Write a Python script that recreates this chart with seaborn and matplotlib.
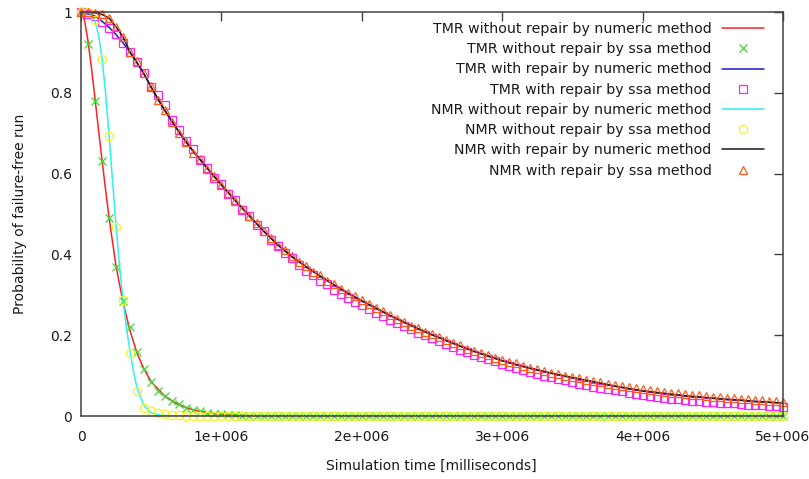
import matplotlib
matplotlib.use("Agg")
import matplotlib.pyplot as plt
import seaborn as sns
import numpy as np

# ---------------- data (time in units of 1e5 ms for numeric, 1e4 ms for ssa) ----------------
t_red = [0, 0.25, 0.5, 0.75, 1, 1.25, 1.5, 1.75, 2, 2.5, 3, 3.5, 4, 4.5, 5, 6, 7, 8, 9, 10,
         12, 15, 20, 30, 40, 50]
tmr_norep_num = [1.0, 0.98, 0.928, 0.86, 0.785, 0.707, 0.633, 0.56, 0.49, 0.37, 0.28, 0.21,
                 0.155, 0.115, 0.085, 0.048, 0.027, 0.015, 0.008, 0.004, 0.001, 0, 0, 0, 0, 0]

t_cyan = [0, 0.5, 0.75, 1, 1.25, 1.5, 1.75, 2, 2.25, 2.5, 2.75, 3, 3.25, 3.5, 3.75, 4, 4.5,
          5, 5.5, 6, 7, 10, 20, 50]
nmr_norep_num = [1.0, 0.998, 0.993, 0.978, 0.943, 0.885, 0.80, 0.695, 0.58, 0.47, 0.37, 0.285,
                 0.215, 0.158, 0.108, 0.068, 0.025, 0.008, 0.003, 0.001, 0, 0, 0, 0]

t_rep = [0, 1, 1.5, 2, 2.5, 3, 3.5, 4, 4.5, 5, 5.5, 6, 6.5, 7, 7.5, 8,
         9, 10, 11, 12, 13, 14, 15, 16, 17, 18, 19, 20,
         21, 22, 23, 24, 25, 26, 27, 28, 29, 30,
         31, 32, 33, 34, 35, 36, 37, 38, 39, 40,
         41, 42, 43, 44, 45, 46, 47, 48, 49, 50]
nmr_rep_num = [1.000, 0.998, 0.994, 0.985, 0.963, 0.938, 0.900, 0.874, 0.846, 0.814, 0.783,
               0.755, 0.728, 0.702, 0.678, 0.655,
               0.613, 0.572, 0.533, 0.495, 0.458, 0.424, 0.395, 0.370, 0.347, 0.325, 0.304, 0.285,
               0.267, 0.249, 0.232, 0.216, 0.201, 0.187, 0.173, 0.160, 0.148, 0.137,
               0.127, 0.118, 0.110, 0.102, 0.095, 0.088, 0.081, 0.074, 0.068, 0.062,
               0.058, 0.054, 0.050, 0.047, 0.044, 0.041, 0.039, 0.036, 0.034, 0.032]
tmr_rep_num = [1.000, 0.990, 0.977, 0.962, 0.944, 0.923, 0.900, 0.874, 0.846, 0.814, 0.783,
               0.755, 0.728, 0.702, 0.678, 0.655,
               0.613, 0.572, 0.533, 0.495, 0.458, 0.424, 0.395, 0.370, 0.347, 0.325, 0.304, 0.285,
               0.267, 0.249, 0.232, 0.216, 0.201, 0.187, 0.173, 0.160, 0.148, 0.137,
               0.127, 0.118, 0.110, 0.102, 0.095, 0.088, 0.081, 0.074, 0.068, 0.062,
               0.058, 0.054, 0.050, 0.047, 0.044, 0.041, 0.039, 0.036, 0.034, 0.032]

t_ssa = [0, 5, 10, 15, 20, 25, 30, 35, 40, 45, 50, 55, 60, 65, 70, 75, 80, 85, 90, 95,
         100, 105, 110, 115, 120, 125, 130, 135, 140, 145, 150, 155, 160, 165, 170, 175,
         180, 185, 190, 195, 200, 205, 210, 215, 220, 225, 230, 235, 240, 245, 250, 255,
         260, 265, 270, 275, 280, 285, 290, 295, 300, 305, 310, 315, 320, 325, 330, 335,
         340, 345, 350, 355, 360, 365, 370, 375, 380, 385, 390, 395, 400, 405, 410, 415,
         420, 425, 430, 435, 440, 445, 450, 455, 460, 465, 470, 475, 480, 485, 490, 495, 500]

tmr_norep_ssa = [1.0, 0.92, 0.78, 0.63, 0.49, 0.37, 0.285, 0.22, 0.158, 0.116,
                 0.085, 0.062, 0.05, 0.038, 0.029, 0.021, 0.016, 0.012, 0.008, 0.006,
                 0.004, 0.003, 0.002, 0.001, 0, 0, 0, 0, 0, 0,
                 0, 0, 0, 0, 0, 0, 0, 0, 0, 0,
                 0, 0, 0, 0, 0, 0, 0, 0, 0, 0,
                 0, 0, 0, 0, 0, 0, 0, 0, 0, 0,
                 0, 0, 0, 0, 0, 0, 0, 0, 0, 0,
                 0, 0, 0, 0, 0, 0, 0, 0, 0, 0,
                 0, 0, 0, 0, 0, 0, 0, 0, 0, 0,
                 0, 0, 0, 0, 0, 0, 0, 0, 0, 0, 0]

nmr_norep_ssa = [1.0, 1.0, 0.98, 0.884, 0.693, 0.468, 0.287, 0.156, 0.062, 0.02,
                 0.012, 0.008, 0.005, 0.003, 0.002, 0.001, 0, 0, 0, 0,
                 0, 0, 0, 0, 0, 0, 0, 0, 0, 0,
                 0, 0, 0, 0, 0, 0, 0, 0, 0, 0,
                 0, 0, 0, 0, 0, 0, 0, 0, 0, 0,
                 0, 0, 0, 0, 0, 0, 0, 0, 0, 0,
                 0, 0, 0, 0, 0, 0, 0, 0, 0, 0,
                 0, 0, 0, 0, 0, 0, 0, 0, 0, 0,
                 0, 0, 0, 0, 0, 0, 0, 0, 0, 0,
                 0, 0, 0, 0, 0, 0, 0, 0, 0, 0, 0]

tmr_rep_ssa = [1.000, 0.996, 0.990, 0.975, 0.960, 0.946, 0.923, 0.900, 0.876, 0.849,
               0.814, 0.795, 0.770, 0.733, 0.708, 0.680, 0.660, 0.633, 0.615, 0.590,
               0.574, 0.549, 0.534, 0.510, 0.496, 0.472, 0.457, 0.436, 0.421, 0.403,
               0.390, 0.375, 0.360, 0.348, 0.335, 0.326, 0.313, 0.303, 0.293, 0.283,
               0.274, 0.265, 0.256, 0.247, 0.238, 0.231, 0.222, 0.215, 0.206, 0.200,
               0.192, 0.185, 0.177, 0.171, 0.164, 0.158, 0.151, 0.146, 0.140, 0.135,
               0.129, 0.124, 0.119, 0.114, 0.109, 0.105, 0.100, 0.096, 0.092, 0.088,
               0.084, 0.080, 0.077, 0.073, 0.070, 0.067, 0.064, 0.061, 0.058, 0.055,
               0.051, 0.049, 0.047, 0.045, 0.043, 0.041, 0.040, 0.038, 0.037, 0.035,
               0.034, 0.033, 0.032, 0.031, 0.030, 0.028, 0.027, 0.026, 0.025, 0.024, 0.022]

nmr_rep_ssa = [1.000, 1.000, 0.998, 0.995, 0.985, 0.963, 0.938, 0.902, 0.879, 0.850,
               0.817, 0.782, 0.757, 0.728, 0.700, 0.679, 0.652, 0.635, 0.612, 0.594,
               0.571, 0.553, 0.532, 0.513, 0.494, 0.477, 0.457, 0.440, 0.424, 0.410,
               0.396, 0.382, 0.371, 0.357, 0.348, 0.335, 0.326, 0.315, 0.305, 0.296,
               0.287, 0.277, 0.268, 0.259, 0.251, 0.241, 0.233, 0.224, 0.218, 0.209,
               0.203, 0.195, 0.189, 0.181, 0.175, 0.167, 0.162, 0.155, 0.150, 0.144,
               0.139, 0.134, 0.130, 0.124, 0.120, 0.116, 0.112, 0.107, 0.104, 0.100,
               0.097, 0.093, 0.090, 0.086, 0.083, 0.080, 0.077, 0.074, 0.071, 0.069,
               0.066, 0.064, 0.062, 0.060, 0.058, 0.056, 0.054, 0.053, 0.051, 0.049,
               0.048, 0.046, 0.045, 0.044, 0.042, 0.041, 0.040, 0.039, 0.038, 0.036, 0.035]

labels = ["TMR without repair by numeric method", "TMR without repair by ssa method",
          "TMR with repair by numeric method", "TMR with repair by ssa method",
          "NMR without repair by numeric method", "NMR without repair by ssa method",
          "NMR with repair by numeric method", "NMR with repair by ssa method"]

x_ticks = [0, 1e6, 2e6, 3e6, 4e6, 5e6]
x_ticklabels = ["0", "1e+006", "2e+006", "3e+006", "4e+006", "5e+006"]
y_ticks = [0, 0.2, 0.4, 0.6, 0.8, 1.0]
y_ticklabels = ["0", "0.2", "0.4", "0.6", "0.8", "1"]

# ---------------- plotting ----------------
sns.set_style("white")
plt.rcParams['font.family'] = ['DejaVu Sans']
FS = 10.0
FS_LEG = 10.2

fig = plt.figure(figsize=(8.09, 4.79), dpi=100)
ax = fig.add_axes([81 / 809, 1 - 416 / 479, (783 - 81) / 809, (416 - 12) / 479])

C_RED = "#ff2020"
C_GREEN = "#30e030"
C_BLUE = "#1a1acc"
C_MAG = "#ff20ff"
C_CYAN = "#30f0f0"
C_YEL = "#f4f420"
C_BLK = "#1a1a1a"
C_ORA = "#ff5a1a"

LW = 1.1


def line(t, v, color, label, scale):
    sns.lineplot(x=np.asarray(t) * scale, y=v, ax=ax, color=color, lw=LW, label=label,
                 estimator=None, errorbar=None, sort=False)


def pts(v, color, marker, label, ms):
    sns.lineplot(x=np.asarray(t_ssa) * 1e4, y=v, ax=ax, color=color, linestyle='', marker=marker,
                 markersize=ms, markerfacecolor='none', markeredgecolor=color,
                 markeredgewidth=0.9, label=label, estimator=None, errorbar=None,
                 sort=False, clip_on=False)


line(t_red, tmr_norep_num, C_RED, labels[0], 1e5)
pts(tmr_norep_ssa, C_GREEN, 'x', labels[1], 5.5)
line(t_rep, tmr_rep_num, C_BLUE, labels[2], 1e5)
pts(tmr_rep_ssa, C_MAG, 's', labels[3], 6.3)
line(t_cyan, nmr_norep_num, C_CYAN, labels[4], 1e5)
pts(nmr_norep_ssa, C_YEL, 'o', labels[5], 6)
line(t_rep, nmr_rep_num, C_BLK, labels[6], 1e5)
pts(nmr_rep_ssa, C_ORA, '^', labels[7], 6)

ax.set_xlim(0, 5e6)
ax.set_ylim(0, 1)
ax.set_xticks(x_ticks)
ax.set_xticklabels(x_ticklabels)
ax.set_yticks(y_ticks)
ax.set_yticklabels(y_ticklabels)
ax.tick_params(axis='both', direction='in', length=6.5, width=1.0, color='#404040',
               labelsize=FS, labelcolor='#1a1a1a', top=True, right=True)
ax.tick_params(axis='x', pad=10)
ax.tick_params(axis='y', pad=6.5)
for s in ax.spines.values():
    s.set_color('#404040')
    s.set_linewidth(1.1)
    s.set_visible(True)

ax.set_xlabel("Simulation time [milliseconds]", fontsize=FS, color='#1a1a1a')
ax.set_ylabel("Probability of failure-free run", fontsize=FS, color='#1a1a1a')
ax.xaxis.set_label_coords((431 - 81) / 702, -(459 - 416) / 404)
ax.yaxis.set_label_coords(-(81 - 27) / 702, (416 - 214) / 404)

handles, labs = ax.get_legend_handles_labels()
leg = ax.legend(handles, labs, loc='upper right',
                bbox_to_anchor=((764 - 81) / 702, 1 - (22 - 12) / 404),
                frameon=False, markerfirst=False, fontsize=FS_LEG, handlelength=3.0,
                handletextpad=0.7, labelspacing=0.44, borderpad=0, borderaxespad=0)
for txt in leg.get_texts():
    txt.set_color('#1a1a1a')

fig.savefig("out.png", dpi=100, facecolor='white')
